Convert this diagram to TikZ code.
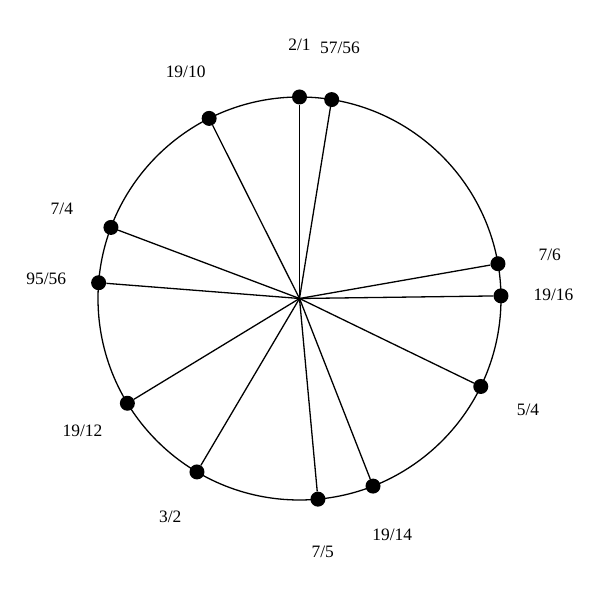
\documentclass[tikz,border=0pt]{standalone}
\usepackage{fontspec}
\setmainfont{Liberation Serif}
\begin{document}
\begin{tikzpicture}[x=1bp,y=1bp,
  dot/.style={circle,fill=black,inner sep=0pt,minimum size=15bp},
  lab/.style={font=\fontsize{17.5}{20}\selectfont,inner sep=0pt},
  ray/.style={line width=1.3bp},
  rim/.style={line width=1.3bp}]
\useasboundingbox (0,0) rectangle (600,600);
\coordinate (c) at (299.5,301.5);
\draw[rim] (c) circle[radius=201.5];
\foreach \a/\t/\n in {90/2\slash 1/a, 80.81/57\slash 56/b, 9.94/7\slash 6/c, 0.75/19\slash 16/d,
  -25.89/5\slash 4/e, -68.6/19\slash 14/f, -84.75/7\slash 5/g, -120.59/3\slash 2/h,
  -148.67/19\slash 12/i, 175.51/95\slash 56/j, 159.35/7\slash 4/k, 116.64/19\slash 10/l} {
  \node[dot] (p\n) at ([shift={(\a:201.5)}]c) {};
  \draw[ray] (c) -- (p\n);
  \node[lab] (t\n) at ([shift={(\a:254)}]c) {\t};
}
\end{tikzpicture}
\end{document}
